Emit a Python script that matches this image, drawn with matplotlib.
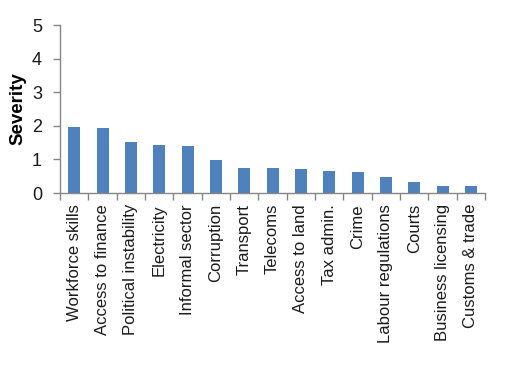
import matplotlib
matplotlib.use("Agg")
import matplotlib.pyplot as plt
import numpy as np

categories = ["Workforce skills", "Access to finance", "Political instability", "Electricity",
              "Informal sector", "Corruption", "Transport", "Telecoms", "Access to land",
              "Tax admin.", "Crime", "Labour regulations", "Courts", "Business licensing",
              "Customs & trade"]
values = [1.96, 1.93, 1.51, 1.42, 1.39, 0.98, 0.74, 0.74, 0.71, 0.65, 0.62, 0.47, 0.32, 0.21, 0.21]

plt.rcParams['font.family'] = ['Liberation Sans', 'DejaVu Sans']

fig = plt.figure(figsize=(5.09, 3.85), dpi=100)
ax = fig.add_axes([0.118, 0.4987, 0.835, 0.4363])

x = np.arange(len(categories))
ax.bar(x, values, width=0.42, color='#4F81BD', zorder=2)

ax.set_xlim(-0.5, len(categories) - 0.5)
ax.set_ylim(0, 5)
ax.set_yticks([0, 1, 2, 3, 4, 5])
ax.set_yticklabels(['0', '1', '2', '3', '4', '5'], fontsize=13, color='#1a1a1a')
ax.set_xticks(x)
ax.set_xticklabels(categories, rotation=90, fontsize=12, va='top', ha='center', color='#1a1a1a')
ax.tick_params(axis='x', which='major', length=0, pad=8)
ax.set_xticks(np.arange(-0.5, len(categories), 1.0), minor=True)
ax.tick_params(axis='x', which='minor', length=5, color='#868686', width=1, direction='out')
ax.tick_params(axis='y', length=5, color='#868686', width=1, direction='out', pad=8)

for s in ['top', 'right']:
    ax.spines[s].set_visible(False)
for s in ['left', 'bottom']:
    ax.spines[s].set_color('#868686')
    ax.spines[s].set_linewidth(1)

ax.set_ylabel('Severity', fontsize=13.5, fontweight='bold', labelpad=4)

fig.savefig('out.png', dpi=100)
